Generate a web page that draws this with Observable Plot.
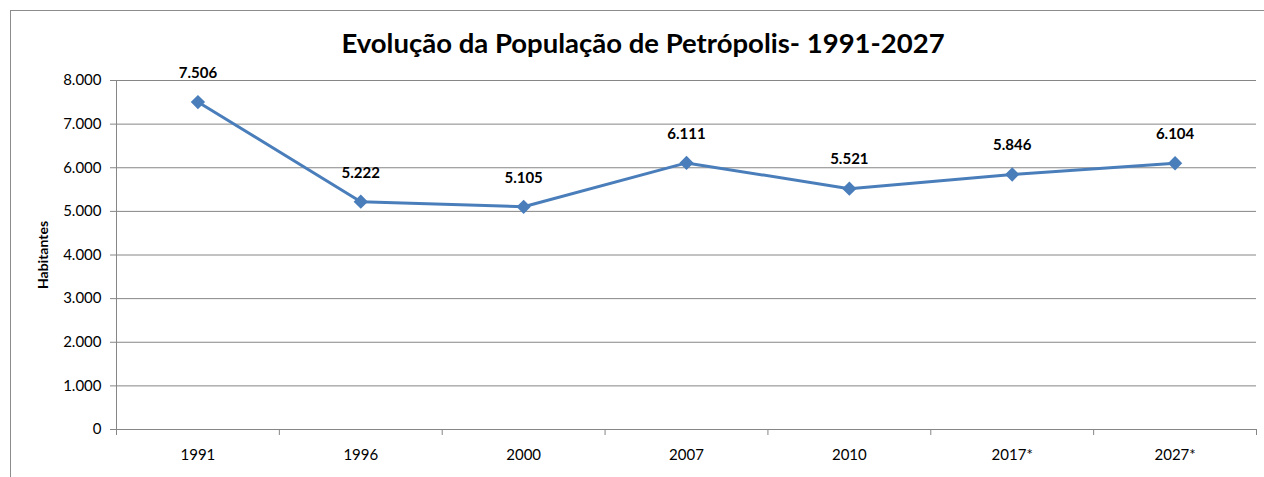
<!DOCTYPE html>
<html>
<head>
<meta charset="utf-8">
<script src="https://cdn.jsdelivr.net/npm/d3@7"></script>
<script src="https://cdn.jsdelivr.net/npm/@observablehq/plot@0.6"></script>
<style>
  html, body { margin: 0; padding: 0; background: #fff; }
  #wrap { position: relative; width: 1264px; height: 477px; overflow: hidden; font-family: Lato, "Open Sans", sans-serif; }
  #frame { position: absolute; left: 10px; top: 10px; width: 1300px; height: 500px; border: 1.5px solid #8c8c8c; box-sizing: border-box; }
  #title { position: absolute; left: 0; width: 1286px; top: 26px; text-align: center; font-size: 27.5px; font-weight: bold; color: #000; font-family: Lato, "Open Sans", sans-serif; }
  #chart { position: absolute; left: 0; top: 0; }
  #chart svg { font-size: 15px; }
</style>
</head>
<body>
<div id="wrap">
  <div id="frame"></div>
  <div id="chart"></div>
  <div id="title">Evolução da População de Petrópolis- 1991-2027</div>
</div>
<script>
const years = ["1991", "1996", "2000", "2007", "2010", "2017*", "2027*"];
const population = [7506, 5222, 5105, 6111, 5521, 5846, 6104];
const yTicks = [0, 1000, 2000, 3000, 4000, 5000, 6000, 7000, 8000];

const data = years.map((y, i) => ({i, year: y, value: population[i]}));
const fmt = d3.formatLocale({decimal: ",", thousands: ".", grouping: [3], currency: ["R$", ""]}).format(",.0f");
const bounds = d3.range(years.length + 1).map(k => k - 0.5);
const blue = "#4a7ebb";

const chart = Plot.plot({
  width: 1264,
  height: 477,
  marginLeft: 116,
  marginRight: 8,
  marginTop: 80,
  marginBottom: 48,
  style: {fontFamily: "Lato, 'Open Sans', sans-serif", fontSize: "15px", background: "transparent", color: "#000"},
  x: {type: "linear", domain: [-0.5, years.length - 0.5]},
  y: {domain: [0, 8000]},
  marks: [
    Plot.ruleY(yTicks.filter(d => d > 0), {stroke: "#868686", strokeWidth: 1}),
    Plot.axisY({ticks: yTicks, tickFormat: fmt, tickSize: 6, tickPadding: 9, stroke: "#868686", label: null, fontSize: 15}),
    Plot.ruleX([-0.5], {stroke: "#868686"}),
    Plot.ruleY([0], {stroke: "#868686"}),
    Plot.axisX({ticks: bounds, tickFormat: () => "", tickSize: 6, stroke: "#868686", label: null}),
    Plot.axisX({ticks: d3.range(years.length), tickFormat: i => years[i], tickSize: 0, tickPadding: 20, label: null, fontSize: 15}),
    Plot.text(["Habitantes"], {frameAnchor: "left", textAnchor: "middle", dx: -73, rotate: -90, fontWeight: "bold", fontSize: 14}),
    Plot.line(data, {x: "i", y: "value", stroke: blue, strokeWidth: 3}),
    Plot.dot(data, {x: "i", y: "value", symbol: "diamond2", r: 5.5, fill: blue, stroke: blue}),
    Plot.text(data, {x: "i", y: "value", text: d => fmt(d.value), dy: -29, fontWeight: "bold", fontSize: 15})
  ]
});
document.getElementById("chart").appendChild(chart);
</script>
</body>
</html>
